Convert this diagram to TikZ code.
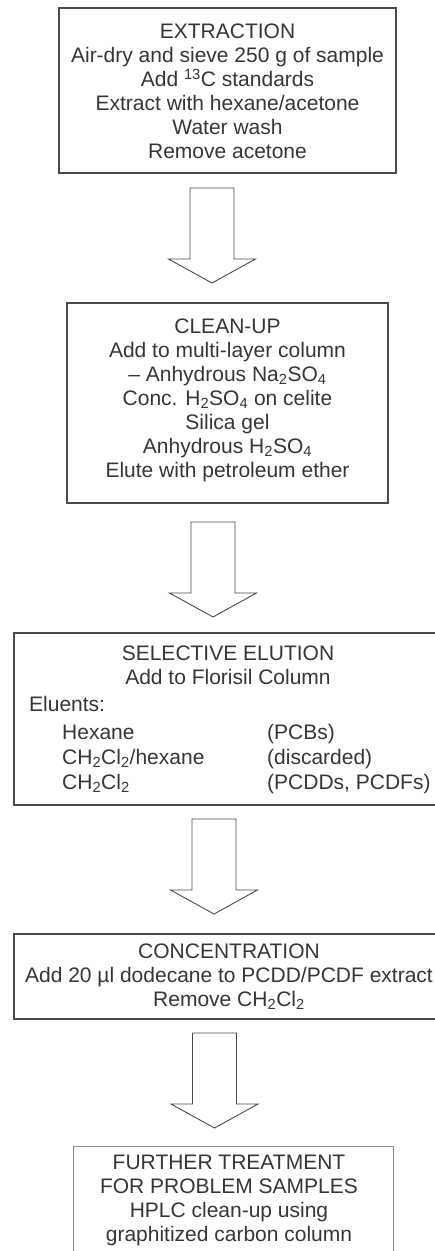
\documentclass[tikz,border=0pt]{standalone}
\usepackage{fontspec}
\setmainfont{Liberation Sans}
\usetikzlibrary{calc}
\definecolor{ink}{HTML}{363636}
\definecolor{frame}{HTML}{4A4A4A}
\definecolor{lightframe}{HTML}{8E8E8E}
\tikzset{
  stepbox/.style={draw=frame, line width=1.1pt, inner sep=0pt, fill=none},
  lightbox/.style={stepbox, draw=lightframe, line width=0.9pt},
  textblock/.style={text=ink, font=\fontsize{21}{24}\selectfont, align=center, inner sep=0pt},
  plaintext/.style={text=ink, font=\fontsize{21}{24}\selectfont, inner sep=0pt, anchor=base west},
  arrowline/.style={draw=frame, line width=0.9pt, fill=white, line join=miter},
  pics/blockarrow/.style={code={
    \draw[arrowline] (-22,0) -- (22,0) -- (22,71) -- (43.5,71) -- (0,95)
      -- (-43.5,71) -- (-22,71) -- cycle;}}
}
\begin{document}
\begin{tikzpicture}[x=1pt,y=-1pt]
\useasboundingbox (0,0) rectangle (435,1251);
\clip (0,0) rectangle (435,1251);
\fill[white] (0,0) rectangle (435,1251);

% EXTRACTION
\node[stepbox, minimum width=337pt, minimum height=165pt] (extraction) at (227.5,90.5) {};
\node[textblock] (extractiontext) at (227.5,91.5)
  {EXTRACTION\\Air-dry and sieve 250 g of sample\\Add \textsuperscript{13}C standards\\Extract with hexane/acetone\\Water wash\\Remove acetone};

% arrow 1
\coordinate (a1) at (212,188);
\pic at (a1) {blockarrow};

% CLEAN-UP
\node[stepbox, minimum width=321pt, minimum height=200pt] (cleanup) at (227.5,403) {};
\node[textblock] (cleanuptext) at (227.5,400.5)
  {CLEAN-UP\\Add to multi-layer column\\– Anhydrous Na\textsubscript{2}SO\textsubscript{4}\\Conc. H\textsubscript{2}SO\textsubscript{4} on celite\\Silica gel\\Anhydrous H\textsubscript{2}SO\textsubscript{4}\\Elute with petroleum ether};

% arrow 2
\coordinate (a2) at (213,522);
\pic at (a2) {blockarrow};

% SELECTIVE ELUTION
\node[stepbox, minimum width=428pt, minimum height=172pt] (elution) at (228,719) {};
\node[textblock] (elutiontitle) at (228,665.5) {SELECTIVE ELUTION\\Add to Florisil Column};
\node[plaintext] (eluents) at (29,711.5) {Eluents:};
\node[plaintext] (hexane) at (62,739.5) {Hexane};
\node[plaintext] (mix) at (62,764.5) {CH\textsubscript{2}Cl\textsubscript{2}/hexane};
\node[plaintext] (dcm) at (62,789.5) {CH\textsubscript{2}Cl\textsubscript{2}};
\node[plaintext] (pcbs) at (267,739.5) {(PCBs)};
\node[plaintext] (discarded) at (267,764.5) {(discarded)};
\node[plaintext] (pcdds) at (267,789.5) {(PCDDs, PCDFs)};

% arrow 3
\coordinate (a3) at (214,819);
\pic at (a3) {blockarrow};

% CONCENTRATION
\node[stepbox, minimum width=431pt, minimum height=85pt] (concentration) at (229.5,976.5) {};
\node[textblock] (concentrationtext) at (229,977)
  {CONCENTRATION\\Add 20 µl dodecane to PCDD/PCDF extract\\Remove CH\textsubscript{2}Cl\textsubscript{2}};

% arrow 4
\coordinate (a4) at (214.5,1033);
\pic at (a4) {blockarrow};

% FURTHER TREATMENT
\node[lightbox, minimum width=320pt, minimum height=116pt] (further) at (233,1204) {};
\node[textblock] (furthertext) at (229,1200)
  {FURTHER TREATMENT\\FOR PROBLEM SAMPLES\\HPLC clean-up using\\graphitized carbon column};
\end{tikzpicture}
\end{document}
